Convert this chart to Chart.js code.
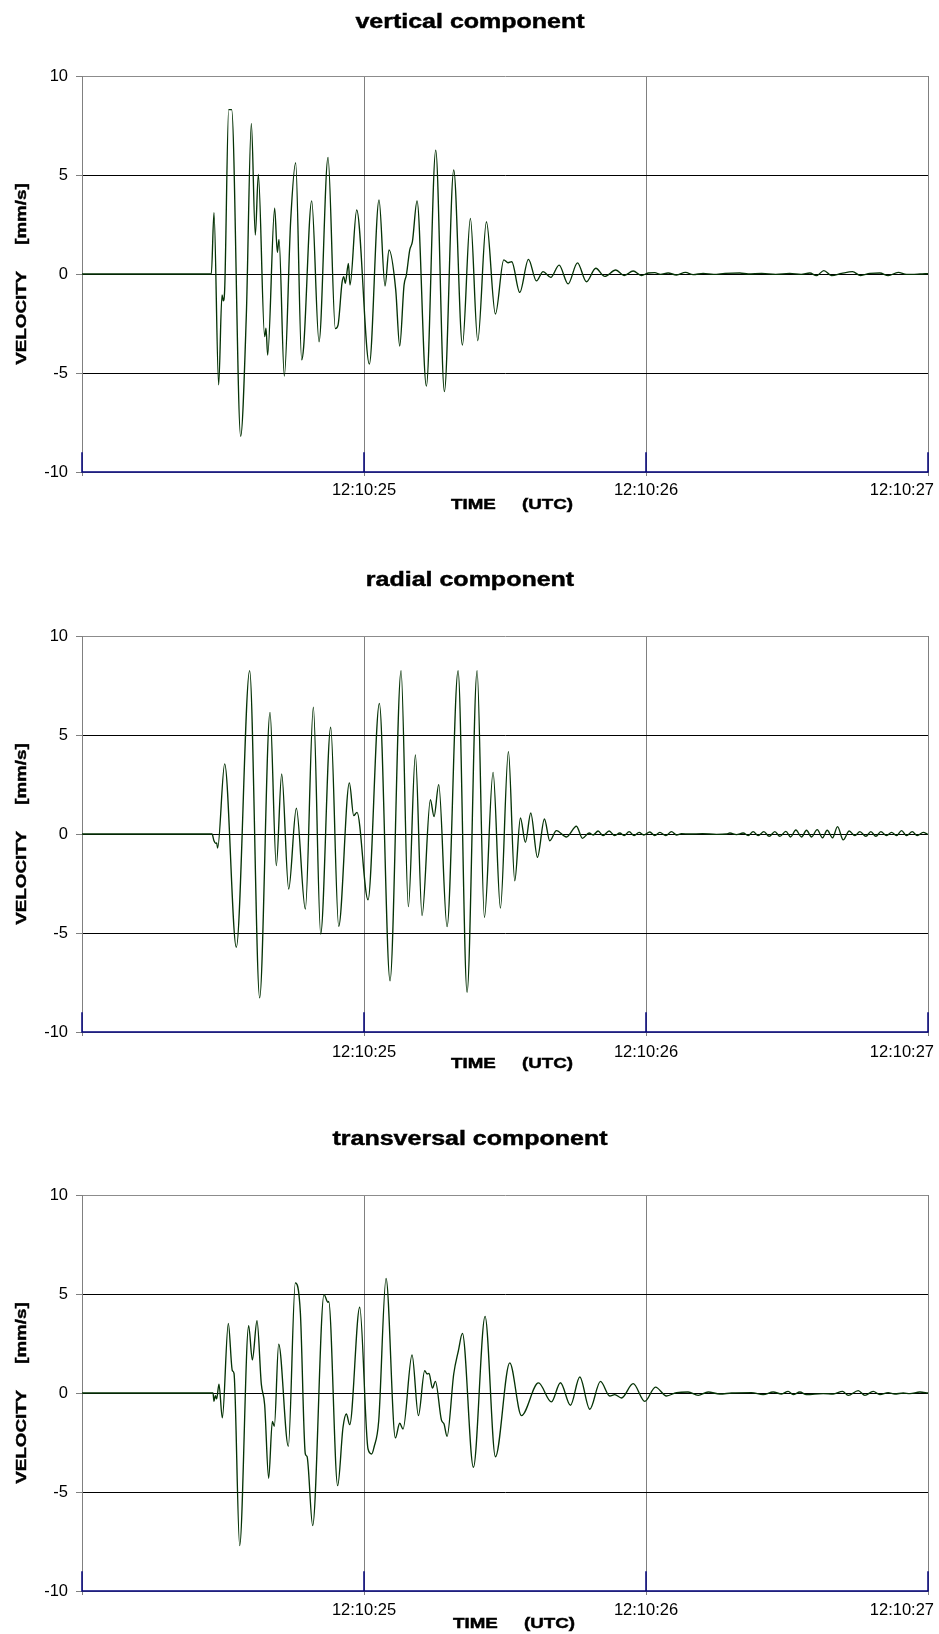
<!DOCTYPE html>
<html>
<head>
<meta charset="utf-8">
<script src="https://cdn.jsdelivr.net/npm/chart.js@4.4.1/dist/chart.umd.min.js"></script>
<style>
  html, body { margin: 0; padding: 0; background: #ffffff; }
  body { width: 939px; height: 1634px; overflow: hidden; position: relative; }
  .panel { position: absolute; left: 0; width: 939px; }
  canvas { display: block; }
</style>
</head>
<body>
<div class="panel" style="top:0px;height:560px"><canvas id="c1" width="939" height="560"></canvas></div>
<div class="panel" style="top:560px;height:559px"><canvas id="c2" width="939" height="559"></canvas></div>
<div class="panel" style="top:1119px;height:515px"><canvas id="c3" width="939" height="515"></canvas></div>
<script>
// ---------------- DATA ----------------
// time in seconds after 12:10:24 UTC, velocity in mm/s
const timeTickValues = [0, 1, 2, 3];
const timeTickLabels = ['', '12:10:25', '12:10:26', '12:10:27'];
const velocityTicks = [-10, -5, 0, 5, 10];
const markerTimes = [0, 1, 2, 3];
const markerBase = -10;
const markerTop = -9;

const panelTitles = ['vertical component', 'radial component', 'transversal component'];
const yAxisTitle = 'VELOCITY     [mm/s]';
const xAxisTitle = 'TIME     (UTC)';

const verticalTimes = [0, 0.4586, 0.4680, 0.4846, 0.4964, 0.5011, 0.5059, 0.5201, 0.5236, 0.5307, 0.5626, 0.5827, 0.6005, 0.6146, 0.6253, 0.6477, 0.6525, 0.6584, 0.6832, 0.6927, 0.6986, 0.7175, 0.7400, 0.7577, 0.7790, 0.7861, 0.8145, 0.8405, 0.8724, 0.8984, 0.9079, 0.9221, 0.9280, 0.9339, 0.9446, 0.9505, 0.9741, 1.0190, 1.0533, 1.0746, 1.0888, 1.1125, 1.1266, 1.1420, 1.1503, 1.1621, 1.1716, 1.1881, 1.2212, 1.2544, 1.2851, 1.3182, 1.3490, 1.3773, 1.4033, 1.4341, 1.4660, 1.4956, 1.5109, 1.5240, 1.5523, 1.5831, 1.6115, 1.6351, 1.6623, 1.6918, 1.7238, 1.7569, 1.7888, 1.8219, 1.8539, 1.8929, 1.9224, 1.9544, 1.9839, 2.0076, 2.0312, 2.0513, 2.0785, 2.1081, 2.1400, 2.1672, 2.2027, 2.2400, 2.2800, 2.3328, 2.3623, 2.4100, 2.4600, 2.5100, 2.5500, 2.5811, 2.6047, 2.6307, 2.6579, 2.6934, 2.7324, 2.7608, 2.7939, 2.8294, 2.8589, 2.8944, 2.9240, 2.9713, 3.0];
const verticalValues = [0, 0, 3.10, -5.60, -1.06, -1.35, -0.80, 8.30, 8.30, 8.30, -8.20, -2.10, 7.60, 1.97, 5.03, -3.16, -2.74, -4.09, 3.32, 1.09, 1.75, -5.15, 2.70, 5.62, -4.34, -3.67, 3.69, -3.42, 5.89, -2.76, -2.58, -0.44, -0.13, -0.47, 0.54, -0.56, 3.23, -4.55, 3.74, -0.61, 1.21, -0.80, -3.64, -0.56, -0.05, 1.21, 1.63, 3.69, -5.66, 6.26, -5.94, 5.25, -3.59, 2.81, -3.37, 2.64, -2.02, 0.71, 0.57, 0.62, -0.93, 0.74, -0.35, 0.12, -0.17, 0.45, -0.50, 0.56, -0.39, 0.29, -0.12, 0.20, -0.08, 0.15, -0.08, 0.05, 0.07, -0.02, 0.05, -0.05, 0.08, -0.03, 0.03, -0.02, 0.03, 0.05, 0.00, 0.03, -0.02, 0.03, -0.02, 0.05, -0.08, 0.17, -0.08, 0.03, 0.12, -0.08, 0.03, 0.05, -0.08, 0.08, -0.02, 0.00, 0.02];

const radialTimes = [0, 0.4609, 0.4680, 0.4739, 0.4775, 0.4810, 0.5059, 0.5472, 0.5945, 0.6300, 0.6667, 0.6891, 0.7081, 0.7329, 0.7601, 0.7920, 0.8204, 0.8464, 0.8819, 0.9103, 0.9481, 0.9635, 0.9753, 1.0143, 1.0545, 1.0923, 1.1314, 1.1574, 1.1822, 1.2059, 1.2354, 1.2484, 1.2650, 1.2945, 1.3336, 1.3655, 1.4010, 1.4270, 1.4577, 1.4838, 1.5121, 1.5346, 1.5547, 1.5724, 1.5913, 1.6150, 1.6398, 1.6587, 1.6824, 1.7179, 1.7534, 1.7746, 1.7983, 1.8125, 1.8302, 1.8479, 1.8692, 1.8893, 1.9071, 1.9224, 1.9402, 1.9579, 1.9756, 1.9922, 2.0135, 2.0312, 2.0490, 2.0702, 2.0904, 2.1081, 2.1258, 2.1554, 2.2000, 2.2500, 2.2855, 2.2973, 2.3209, 2.3446, 2.3623, 2.3800, 2.3978, 2.4179, 2.4368, 2.4569, 2.4747, 2.4959, 2.5125, 2.5314, 2.5515, 2.5692, 2.5870, 2.6071, 2.6260, 2.6425, 2.6615, 2.6792, 2.6993, 2.7206, 2.7407, 2.7584, 2.7797, 2.7974, 2.8152, 2.8329, 2.8530, 2.8708, 2.8885, 2.9062, 2.9240, 2.9441, 2.9618, 2.9831, 3.0];
const radialValues = [0, 0, -0.34, -0.47, -0.45, -0.71, 3.54, -5.72, 8.25, -8.28, 6.14, -1.60, 3.03, -2.78, 1.30, -3.79, 6.40, -5.05, 5.39, -4.66, 2.58, 0.93, 1.09, -3.33, 6.60, -7.41, 8.25, -3.67, 3.99, -4.12, 1.73, 0.88, 2.49, -4.68, 8.25, -8.00, 8.25, -4.21, 3.11, -3.74, 4.16, -2.36, 0.81, -0.42, 1.06, -1.18, 0.76, -0.34, 0.17, -0.15, 0.39, -0.22, 0.05, -0.05, 0.15, -0.08, 0.15, -0.08, 0.05, -0.08, 0.12, -0.08, 0.08, -0.05, 0.10, -0.08, 0.08, -0.08, 0.12, -0.05, 0.02, 0.00, 0.02, -0.02, 0.00, 0.05, -0.03, 0.05, -0.08, 0.12, -0.08, 0.12, -0.12, 0.12, -0.12, 0.13, -0.15, 0.20, -0.15, 0.19, -0.15, 0.22, -0.19, 0.19, -0.19, 0.37, -0.30, 0.15, -0.08, 0.12, -0.12, 0.12, -0.12, 0.12, -0.08, 0.08, -0.08, 0.17, -0.08, 0.12, -0.08, 0.08, -0.02];

const transversalTimes = [0, 0.4645, 0.4680, 0.4728, 0.4775, 0.4857, 0.4976, 0.5189, 0.5331, 0.5390, 0.5591, 0.5910, 0.6040, 0.6206, 0.6359, 0.6477, 0.6619, 0.6750, 0.6820, 0.6974, 0.7317, 0.7565, 0.7743, 0.7920, 0.7979, 0.8180, 0.8582, 0.8724, 0.8748, 0.9067, 0.9256, 0.9375, 0.9493, 0.9848, 1.0143, 1.0273, 1.0356, 1.0522, 1.0782, 1.1113, 1.1266, 1.1385, 1.1704, 1.1929, 1.2153, 1.2236, 1.2307, 1.2425, 1.2532, 1.2745, 1.2839, 1.2945, 1.3182, 1.3348, 1.3490, 1.3880, 1.4293, 1.4660, 1.5168, 1.5583, 1.6186, 1.6647, 1.6966, 1.7321, 1.7652, 1.8007, 1.8385, 1.8716, 1.8893, 1.9130, 1.9544, 1.9957, 2.0336, 2.0726, 2.1081, 2.1495, 2.1849, 2.2204, 2.2618, 2.3032, 2.3741, 2.4155, 2.4510, 2.4806, 2.5042, 2.5219, 2.5456, 2.5692, 2.6283, 2.6638, 2.6970, 2.7171, 2.7526, 2.7762, 2.8057, 2.8294, 2.8589, 2.8826, 2.9121, 2.9358, 2.9713, 3.0];
const transversalValues = [0, 0, -0.42, -0.13, -0.30, 0.45, -1.26, 3.52, 1.13, 0.99, -7.71, 3.40, 1.67, 3.65, 0.45, -0.59, -4.31, -1.43, -1.68, 2.47, -2.69, 5.56, 4.07, -3.08, -3.20, -6.70, 4.97, 4.58, 4.63, -4.68, -1.73, -1.06, -1.60, 4.33, -2.83, -3.08, -2.74, -1.40, 5.79, -2.27, -1.53, -1.82, 1.92, -1.14, 1.13, 0.96, 0.99, 0.25, 0.59, -1.36, -1.57, -2.19, 0.96, 2.14, 3.01, -3.75, 3.87, -3.22, 1.52, -1.14, 0.51, -0.45, 0.52, -0.62, 0.81, -0.82, 0.59, -0.15, -0.08, -0.25, 0.47, -0.42, 0.30, -0.15, 0.02, 0.05, -0.12, 0.05, -0.05, 0.00, 0.02, -0.08, 0.05, -0.05, 0.08, -0.08, 0.05, -0.08, -0.03, -0.05, 0.08, -0.12, 0.12, -0.12, 0.08, -0.08, 0.02, -0.05, 0.00, -0.03, 0.05, 0.00];

// ---------------- STYLE / LAYOUT ----------------
const FONT = '"Liberation Sans", Arial, Helvetica, sans-serif';
const PLOT_TOP = 76, PLOT_BOTTOM = 472, PLOT_LEFT = 82, PLOT_RIGHT = 928;
const WIDE = 1.25; // horizontal stretch of the bold captions

function wideText(ctx, text, x, y, angle) {
  ctx.save();
  ctx.translate(x, y);
  if (angle) ctx.rotate(angle);
  ctx.scale(WIDE, 1);
  ctx.lineWidth = 0.45;
  ctx.strokeStyle = '#000';
  ctx.fillText(text, 0, 0);
  ctx.strokeText(text, 0, 0);
  ctx.restore();
}

const textPlugin = {
  id: 'panelText',
  afterDraw(chart, args, opts) {
    const ctx = chart.ctx;
    const area = chart.chartArea;
    const xs = chart.scales.x;
    const W = chart.width;
    ctx.save();
    ctx.fillStyle = '#000';
    // title
    ctx.font = 'bold 20px ' + FONT;
    ctx.textAlign = 'center';
    ctx.textBaseline = 'alphabetic';
    wideText(ctx, opts.title, opts.titleX, opts.titleBaseline, 0);
    // x tick labels
    ctx.font = '16.5px ' + FONT;
    ctx.textBaseline = 'middle';
    timeTickValues.forEach((v, i) => {
      const label = timeTickLabels[i];
      if (!label) return;
      const w = ctx.measureText(label).width;
      let cx = xs.getPixelForValue(v);
      if (cx + w / 2 > W - 5) cx = W - 5 - w / 2;
      ctx.textAlign = 'center';
      ctx.fillText(label, cx, opts.tickLabelY);
    });
    // x axis title
    ctx.font = 'bold 15px ' + FONT;
    ctx.textAlign = 'center';
    wideText(ctx, xAxisTitle, opts.timeX, opts.timeY, 0);
    // y axis title
    wideText(ctx, yAxisTitle, opts.yTitleX, (area.top + area.bottom) / 2, -Math.PI / 2);
    ctx.restore();
  }
};

function makeChart(id, height, times, values, opts) {
  const series = times.map((t, i) => ({ x: t, y: values[i] }));
  const markers = [];
  markerTimes.forEach(t => {
    markers.push({ x: t, y: markerBase }, { x: t, y: markerTop }, { x: t, y: markerBase });
  });
  return new Chart(document.getElementById(id), {
    type: 'line',
    data: {
      datasets: [
        {
          data: series,
          borderColor: '#063306',
          borderWidth: 1.35,
          pointRadius: 0,
          fill: false,
          cubicInterpolationMode: 'monotone'
        },
        {
          data: markers,
          borderColor: '#00007a',
          borderWidth: 1.5,
          pointRadius: 0,
          fill: false,
          tension: 0,
          clip: 4
        }
      ]
    },
    options: {
      responsive: false,
      animation: false,
      events: [],
      layout: { padding: { left: 0, right: 939 - PLOT_RIGHT, top: PLOT_TOP, bottom: 0 } },
      plugins: {
        legend: { display: false },
        tooltip: { enabled: false },
        title: { display: false },
        panelText: opts
      },
      scales: {
        x: {
          type: 'linear',
          min: 0,
          max: 3,
          afterBuildTicks: s => { s.ticks = timeTickValues.map(v => ({ value: v })); },
          afterFit: s => { s.height = height - PLOT_BOTTOM; },
          ticks: { display: false },
          grid: { color: '#808080', lineWidth: 1, drawTicks: true, tickLength: 4, tickColor: '#808080' },
          border: { color: '#808080', width: 1 }
        },
        y: {
          type: 'linear',
          min: -10,
          max: 10,
          afterBuildTicks: s => { s.ticks = velocityTicks.map(v => ({ value: v })); },
          afterFit: s => { s.width = PLOT_LEFT; },
          ticks: { color: '#000', font: { family: FONT, size: 16.5 }, padding: 8 },
          grid: {
            color: c => (c.tick && Math.abs(c.tick.value) === 10) ? '#8c8c8c' : '#000000',
            lineWidth: 1,
            drawTicks: true,
            tickLength: 6,
            tickColor: '#808080'
          },
          border: { color: '#808080', width: 1 }
        }
      }
    },
    plugins: [textPlugin]
  });
}

makeChart('c1', 560, verticalTimes, verticalValues,
  { title: panelTitles[0], titleX: 470, titleBaseline: 27.5, tickLabelY: 490, timeX: 512, timeY: 504.5, yTitleX: 21.5 });
makeChart('c2', 559, radialTimes, radialValues,
  { title: panelTitles[1], titleX: 470, titleBaseline: 26, tickLabelY: 492, timeX: 512, timeY: 504, yTitleX: 21.5 });
makeChart('c3', 515, transversalTimes, transversalValues,
  { title: panelTitles[2], titleX: 470, titleBaseline: 26.3, tickLabelY: 491, timeX: 514, timeY: 504.5, yTitleX: 21.5 });
</script>
</body>
</html>
